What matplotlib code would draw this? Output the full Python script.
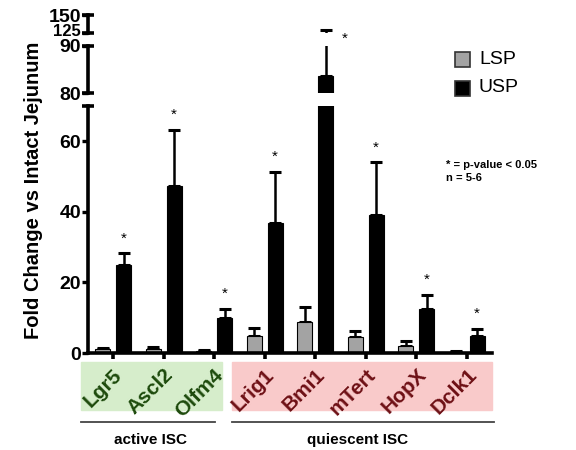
import numpy as np
import matplotlib
matplotlib.use("Agg")
import matplotlib.pyplot as plt
import matplotlib.transforms as mtransforms
from matplotlib.patches import Rectangle
from matplotlib.lines import Line2D

plt.rcParams["font.family"] = ["Liberation Sans", "DejaVu Sans"]

# ---------------------------------------------------------------------------
# Data
# ---------------------------------------------------------------------------
genes = ["Lgr5", "Ascl2", "Olfm4", "Lrig1", "Bmi1", "mTert", "HopX", "Dclk1"]
lsp_mean = [1.0, 1.2, 0.7, 4.8, 8.9, 4.5, 2.0, 0.4]
lsp_err = [0.3, 0.4, 0.2, 2.4, 4.1, 1.8, 1.4, 0.1]
usp_mean = [25.0, 47.2, 10.0, 36.8, 83.6, 39.0, 12.6, 4.9]
usp_err = [3.3, 16.0, 2.5, 14.6, 46.0, 15.0, 3.9, 2.0]
significant = [True, True, True, True, True, True, True, True]
gene_colors = ["#1d4a0c"] * 3 + ["#6e1015"] * 5

LSP_COLOR = "#a3a3a3"
USP_COLOR = "#000000"

W, H = 576, 450
fig = plt.figure(figsize=(W / 100, H / 100), dpi=100)


def fx(px):
    return px / W


def fy(py):
    return 1 - py / H


# three stacked axes for the broken y axis: (top px, bottom px, ylim)
segments = [
    (106, 353, (0, 70)),
    (46, 93, (80, 90)),
    (15, 33, (125, 150)),
]
left_px, right_px = 88, 492

x = np.arange(len(genes))
off, bw = 0.207, 0.29
axes = []
for top, bot, lim in segments:
    ax = fig.add_axes([fx(left_px), fy(bot), fx(right_px - left_px), (bot - top) / H])
    ax.set_xlim(-0.5, len(genes) - 0.5)
    ax.set_ylim(*lim)
    for s in ["top", "right", "bottom"]:
        ax.spines[s].set_visible(False)
    ax.spines["left"].set_linewidth(2.6)
    ax.patch.set_alpha(0)

    ax.bar(x - off, lsp_mean, bw, color=LSP_COLOR, edgecolor="black", linewidth=0.8, zorder=2)
    ax.bar(x + off, usp_mean, bw, color=USP_COLOR, edgecolor="black", linewidth=0.8, zorder=2)
    ax.errorbar(x - off, lsp_mean, yerr=[np.zeros(len(genes)), lsp_err], fmt="none",
                ecolor="black", elinewidth=1.8, capsize=4, capthick=2.2, zorder=1)
    ax.errorbar(x + off, usp_mean, yerr=[np.zeros(len(genes)), usp_err], fmt="none",
                ecolor="black", elinewidth=1.8, capsize=4, capthick=2.2, zorder=1)

    ax.tick_params(axis="y", length=4, width=2.4, labelsize=14, pad=1)
    ax.set_xticks([])
    axes.append(ax)

ax_lo, ax_mid, ax_hi = axes
ax_lo.set_yticks([0, 20, 40, 60])
ax_mid.set_yticks([80, 90])
ax_hi.set_yticks([125, 150])
for ax in axes:
    for lab in ax.get_yticklabels():
        lab.set_fontweight("bold")
# the crowded "125" label is smaller and nudged up a little
lab125 = ax_hi.yaxis.get_major_ticks()[0].label1
lab125.set_fontsize(12)
lab125.set_transform(lab125.get_transform() +
                     mtransforms.ScaledTranslation(0, 2.5 / 72, fig.dpi_scale_trans))

# bottom axis line with short tick nubs under each group
ax_lo.spines["bottom"].set_visible(True)
ax_lo.spines["bottom"].set_linewidth(2.6)
ax_lo.set_xticks(x)
ax_lo.set_xticklabels([])
ax_lo.tick_params(axis="x", length=4, width=2.6)

# little caps at the ends of the broken spine segments
for ax, ends in [(ax_lo, [1]), (ax_mid, [0, 1]), (ax_hi, [0, 1])]:
    for e in ends:
        ax.plot([0], [e], transform=ax.transAxes, marker="_", ms=9, mew=2.6,
                color="black", clip_on=False)

# significance stars
for i, sig in enumerate(significant):
    if not sig:
        continue
    top = usp_mean[i] + usp_err[i]
    if top < 70:
        ax_lo.text(x[i] + off, top + 4.2, "*", ha="center", va="center", fontsize=11)
ax_mid.text(x[4] + off + 0.38, 91.5, "*", ha="center", va="center", fontsize=11, clip_on=False)

ax_lo.set_ylabel("Fold Change vs Intact Jejunum", fontsize=14.5, fontweight="bold")
ax_lo.yaxis.set_label_coords((43 - left_px) / (right_px - left_px), (353 - 190) / (353 - 106))

# shaded category boxes and rotated gene labels
fig.patches.append(Rectangle((fx(81), fy(410)), fx(222 - 81), (410 - 362) / H,
                             transform=fig.transFigure, color="#d6edcb", zorder=0))
fig.patches.append(Rectangle((fx(232), fy(410)), fx(492 - 232), (410 - 362) / H,
                             transform=fig.transFigure, color="#f9caca", zorder=0))
tick_px = [113 + 50.7 * i for i in range(len(genes))]
for g, c, t in zip(genes, gene_colors, tick_px):
    fig.text(fx(t + 6), fy(372), g, rotation=45, rotation_mode="anchor", ha="right",
             va="center", fontsize=15, fontweight="bold", color=c)

# group brackets
for x0, x1 in [(81, 215), (232, 494)]:
    fig.lines.append(Line2D([fx(x0), fx(x1)], [fy(422), fy(422)], transform=fig.transFigure,
                            color="#444444", linewidth=1.3))
fig.text(fx(151), fy(440), "active ISC", ha="center", va="center", fontsize=11, fontweight="bold")
fig.text(fx(358), fy(440), "quiescent ISC", ha="center", va="center", fontsize=11, fontweight="bold")

# legend
for py, c, lab in [(59, LSP_COLOR, "LSP"), (88, USP_COLOR, "USP")]:
    fig.patches.append(Rectangle((fx(455), fy(py + 7.5)), fx(15), 15 / H, transform=fig.transFigure,
                                 facecolor=c, edgecolor="#333333", linewidth=1.2))
    fig.text(fx(479), fy(py), lab, ha="left", va="center", fontsize=14)

fig.text(fx(446), fy(165), "* = p-value < 0.05", ha="left", va="center", fontsize=8, fontweight="bold")
fig.text(fx(446), fy(178), "n = 5-6", ha="left", va="center", fontsize=8, fontweight="bold")

fig.savefig("out.png", dpi=100)
